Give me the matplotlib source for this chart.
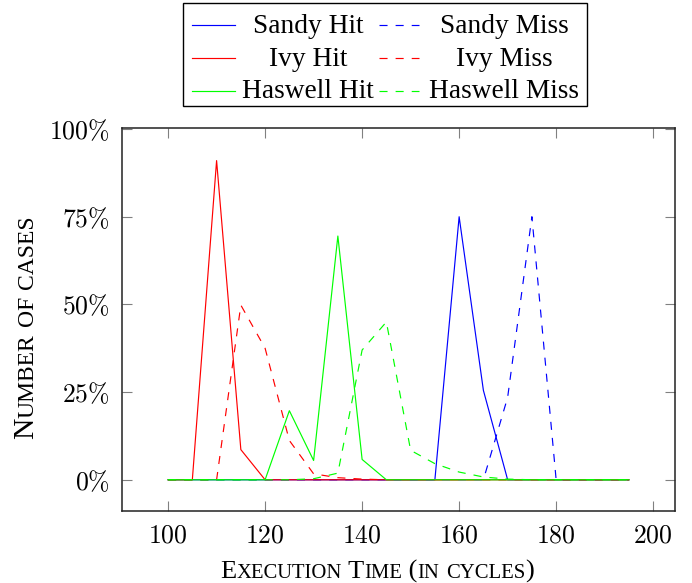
import matplotlib
matplotlib.use("Agg")
import matplotlib.pyplot as plt
from matplotlib.lines import Line2D
from matplotlib.patches import Rectangle
from matplotlib.ticker import FuncFormatter

plt.rcParams['mathtext.fontset'] = 'cm'
plt.rcParams['lines.scale_dashes'] = False

# ---- data ----
cycles = [100, 105, 110, 115, 120, 125, 130, 135, 140, 145,
          150, 155, 160, 165, 170, 175, 180, 185, 190, 195]
sandy_hit = [0, 0, 0, 0, 0, 0, 0, 0, 0, 0,
             0, 0, 75, 25.5, 0, 0, 0, 0, 0, 0]
sandy_miss = [0, 0, 0, 0, 0, 0, 0, 0, 0, 0,
              0, 0, 0, 0, 23.5, 75, 0, 0, 0, 0]
ivy_hit = [0, 0, 91, 8.6, 0, 0, 0, 0, 0, 0,
           0, 0, 0, 0, 0, 0, 0, 0, 0, 0]
ivy_miss = [0, 0, 0, 49.8, 37.5, 11.2, 1.7, 0.6, 0.2, 0,
            0, 0, 0, 0, 0, 0, 0, 0, 0, 0]
haswell_hit = [0, 0, 0, 0, 0, 19.7, 5.5, 69.5, 5.8, 0,
               0, 0, 0, 0, 0, 0, 0, 0, 0, 0]
haswell_miss = [0, 0, 0, 0, 0, 0, 0.3, 1.9, 37, 45,
                8.4, 4.6, 2.2, 0.8, 0.2, 0, 0, 0, 0, 0]

series_names = ["Sandy Hit", "Sandy Miss", "Ivy Hit", "Ivy Miss",
                "Haswell Hit", "Haswell Miss"]
series_values = [sandy_hit, sandy_miss, ivy_hit, ivy_miss,
                 haswell_hit, haswell_miss]
series_colors = ["#0000ff", "#0000ff", "#ff0000", "#ff0000",
                 "#00ff00", "#00ff00"]
series_dashed = [False, True, False, True, False, True]

x_ticks = [100, 120, 140, 160, 180, 200]
y_ticks = [0, 25, 50, 75, 100]
x_label = "Execution Time (in cycles)"
y_label = "Number of cases"

W, H = 692, 583
fig = plt.figure(figsize=(W / 100, H / 100), dpi=100)
ax = fig.add_axes([122 / W, 1 - 511 / H, (675 - 122) / W, (511 - 128) / H])

LW = 0.85
DASH = (5.8, 5.8)
for name, vals, col, dashed in zip(series_names, series_values, series_colors, series_dashed):
    ln, = ax.plot(cycles, vals, color=col, lw=LW)
    if dashed:
        ln.set_dashes(DASH)

ax.set_xlim(90.5, 204.5)
ax.set_ylim(-8.9, 100.3)
ax.set_xticks(x_ticks)
ax.set_yticks(y_ticks)
ax.xaxis.set_major_formatter(FuncFormatter(lambda v, p: r'$%d$' % v))
ax.yaxis.set_major_formatter(FuncFormatter(lambda v, p: r'$%d\%%$' % v))
ax.tick_params(direction='in', length=7, width=0.8, color='#808080',
               top=True, right=True, labelsize=18.5, pad=8)
ax.tick_params(axis='y', pad=9)
for s in ax.spines.values():
    s.set_linewidth(1.1)
    s.set_color('#222222')

# ---- small caps helper ----
fig.canvas.draw()
renderer = fig.canvas.get_renderer()
FAM = 'Liberation Serif'


def sc_runs(text):
    runs = []
    for ch in text:
        small = ch.islower()
        c = ch.upper()
        if runs and runs[-1][1] == small:
            runs[-1][0] += c
        else:
            runs.append([c, small])
    return runs


def text_width(s, size):
    t = fig.text(0, 0, s, fontsize=size, family=FAM)
    w = t.get_window_extent(renderer).width
    t.remove()
    return w


def smallcaps(text, cx, cy, target_len, ratio=0.78, vertical=False):
    runs = sc_runs(text)
    base = 20.0
    nat = sum(text_width(s, base * ratio if sm else base) for s, sm in runs)
    size = base * target_len / nat
    widths = [text_width(s, size * ratio if sm else size) for s, sm in runs]
    total = sum(widths)
    pos = -total / 2
    for (s, sm), w in zip(runs, widths):
        fs = size * ratio if sm else size
        if vertical:
            fig.text(cx / W, 1 - (cy - pos) / H, s, fontsize=fs, family=FAM,
                     rotation=90, rotation_mode='anchor', ha='left', va='baseline')
        else:
            fig.text((cx + pos) / W, 1 - cy / H, s, fontsize=fs, family=FAM,
                     ha='left', va='baseline')
        pos += w


smallcaps(x_label, 377, 578, 313)
smallcaps(y_label, 33, 327, 224, ratio=0.8, vertical=True)

# ---- legend (manual, centered text like pgfplots) ----
fig.add_artist(Rectangle((183 / W, 1 - 106 / H), (587 - 183) / W, (106 - 3) / H,
                         transform=fig.transFigure, fill=False,
                         edgecolor='black', lw=1.0))
line_y = [25, 58.3, 90.7]
base_y = [33.3, 65.7, 98.3]
col_line = [(192, 235), (379, 419)]
col_text = [308, 504]
for i, (name, col, dashed) in enumerate(zip(series_names, series_colors, series_dashed)):
    r, c = divmod(i, 2)
    x0, x1 = col_line[c]
    ln = Line2D([x0 / W, x1 / W], [1 - line_y[r] / H] * 2, transform=fig.transFigure,
                color=col, lw=LW)
    if dashed:
        ln.set_dashes(DASH)
    fig.add_artist(ln)
    fig.text(col_text[c] / W, 1 - base_y[r] / H, name, fontsize=19.7, family=FAM,
             ha='center', va='baseline')

fig.savefig("out.png", dpi=100)
